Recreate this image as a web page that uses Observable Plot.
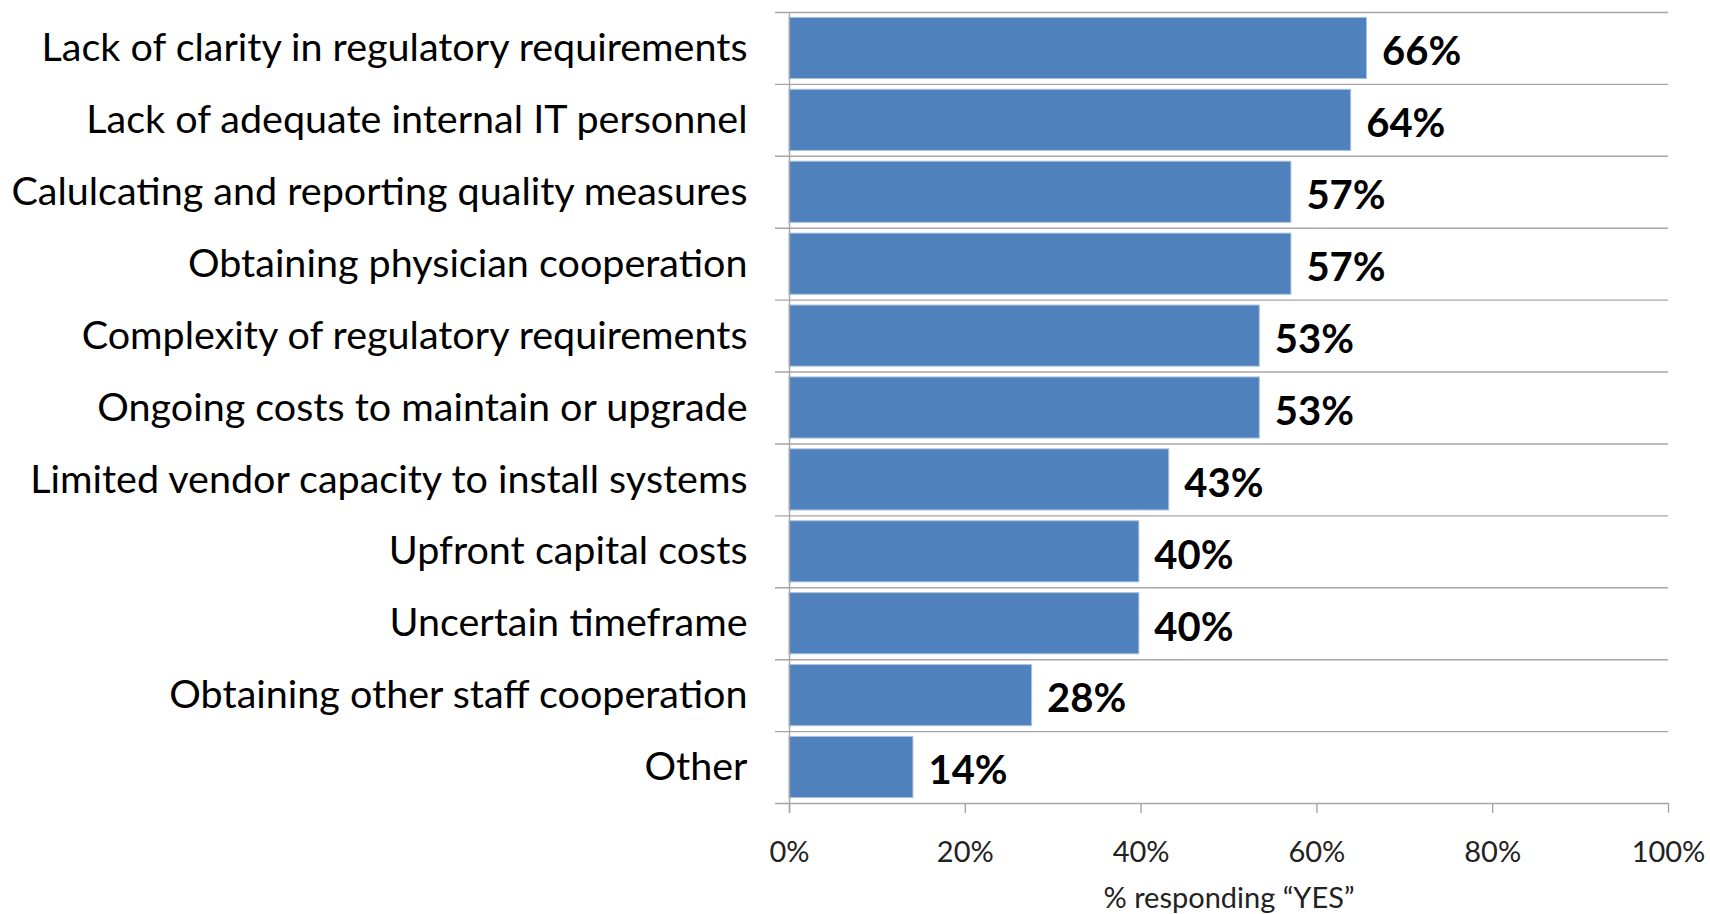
<!DOCTYPE html>
<html>
<head>
<meta charset="utf-8">
<script src="https://cdn.jsdelivr.net/npm/d3@7"></script>
<script src="https://cdn.jsdelivr.net/npm/@observablehq/plot@0.6"></script>
<style>
  html, body { margin: 0; padding: 0; background: #fff; }
  #chart svg { display: block; }
</style>
</head>
<body>
<div id="chart"></div>
<script>
const categories = [
  "Lack of clarity in regulatory requirements",
  "Lack of adequate internal IT personnel",
  "Calulcating and reporting quality measures",
  "Obtaining physician cooperation",
  "Complexity of regulatory requirements",
  "Ongoing costs to maintain or upgrade",
  "Limited vendor capacity to install systems",
  "Upfront capital costs",
  "Uncertain timeframe",
  "Obtaining other staff cooperation",
  "Other"
];
const values = [65.7, 63.9, 57.1, 57.1, 53.5, 53.5, 43.2, 39.8, 39.8, 27.6, 14.1];
const valueLabels = ["66%", "64%", "57%", "57%", "53%", "53%", "43%", "40%", "40%", "28%", "14%"];
const xTicks = [0, 20, 40, 60, 80, 100];
const xTickLabels = ["0%", "20%", "40%", "60%", "80%", "100%"];
const axisTitle = "% responding \u201CYES\u201D";

const data = categories.map((c, i) => ({category: c, value: values[i], label: valueLabels[i]}));

const W = 1710, H = 914;
const mL = 789, mR = 42, mT = 12, mB = 111;
const step = (H - mT - mB) / categories.length;
const gridColor = "#a6a6a6";
const font = "Lato, 'Open Sans', sans-serif";

const chart = Plot.plot({
  width: W,
  height: H,
  marginLeft: mL,
  marginRight: mR,
  marginTop: mT,
  marginBottom: mB,
  style: {fontFamily: font, background: "#fff"},
  x: {domain: [0, 100]},
  y: {domain: categories, paddingInner: 0.15, paddingOuter: 0.075, round: false},
  marks: [
    // horizontal grid lines at band boundaries (with left tick)
    Plot.ruleY(categories, {y: d => d, dy: -step / 2, stroke: gridColor, strokeWidth: 1.4, insetLeft: -14}),
    Plot.ruleY([categories[categories.length - 1]], {y: d => d, dy: step / 2, stroke: gridColor, strokeWidth: 1.4, insetLeft: -14}),
    Plot.barX(data, {y: "category", x: "value", fill: "#4f81bd", stroke: "#a9c2e0", strokeWidth: 1}),
    Plot.text(data, {y: "category", x: "value", text: "label", textAnchor: "start", dx: 15, dy: 4,
      fontSize: 40, fontWeight: "bold", fill: "#000"}),
    Plot.ruleX([0], {stroke: gridColor, strokeWidth: 1.4, insetBottom: -10}),
    Plot.axisY({tickSize: 0, tickPadding: 42, fontSize: 39.5, label: null, fill: "#000"}),
    Plot.axisX({ticks: xTicks, tickFormat: (d, i) => xTickLabels[i], tickSize: 10, tickPadding: 28,
      fontSize: 29, label: null, stroke: gridColor, strokeWidth: 1.4, fill: "#222"}),
    Plot.text([axisTitle], {frameAnchor: "bottom", text: d => d, dy: 104, fontSize: 29, fill: "#222"})
  ]
});
document.getElementById("chart").appendChild(chart);
</script>
</body>
</html>
